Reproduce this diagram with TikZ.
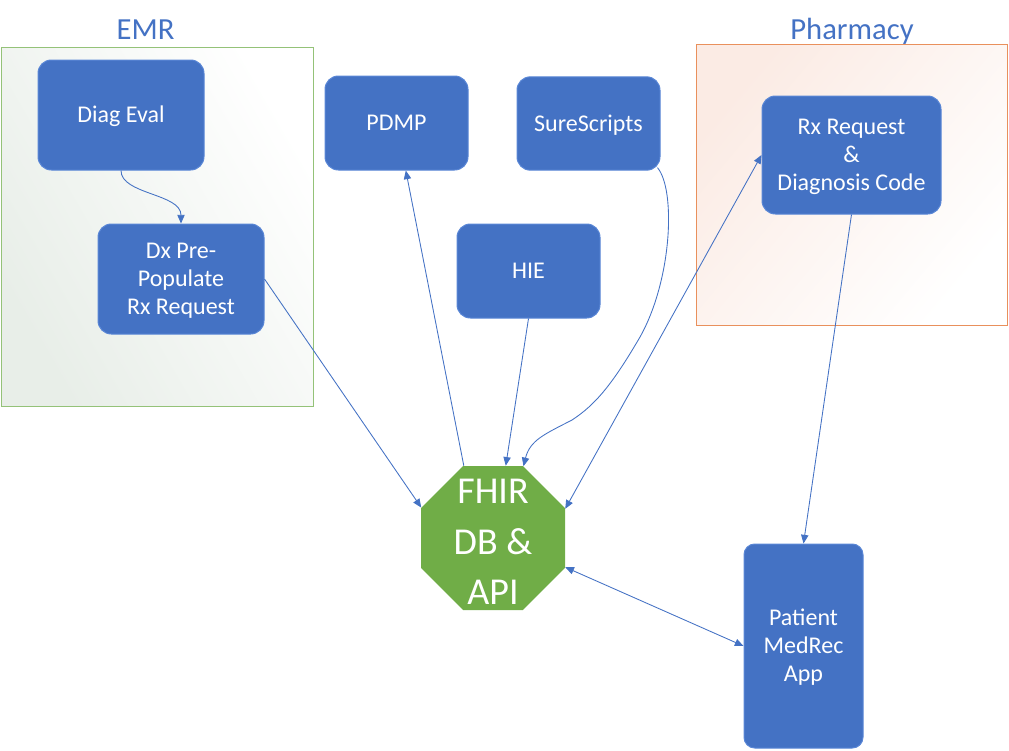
\documentclass[tikz,border=0pt]{standalone}
\usepackage{fontspec}
\setmainfont{Carlito}
\usetikzlibrary{arrows.meta,shapes.geometric,calc}
\definecolor{boxblue}{HTML}{4472C4}
\definecolor{boxedge}{HTML}{5A87D6}
\definecolor{fhirgreen}{HTML}{70AD47}
\definecolor{linkblue}{HTML}{4472C4}
\definecolor{titleblue}{HTML}{4472C4}
\definecolor{emredge}{HTML}{94C278}
\definecolor{emrshade}{HTML}{E8EEE8}
\definecolor{phedge}{HTML}{E9905C}
\definecolor{phshade}{HTML}{FBEBE4}
\newcommand{\boxlines}[1]{\raisebox{-1.75pt}[\height][\depth]{\begin{tabular}{@{}c@{}}#1\end{tabular}}}
\begin{document}
\begin{tikzpicture}[x=0.75pt,y=-0.75pt,
 bluebox/.style={draw=boxedge, line width=0.75pt, fill=boxblue, rounded corners=10pt,
   text=white, align=center, font=\fontsize{18}{21}\selectfont, inner sep=0pt},
 link/.style={draw=linkblue, line width=0.65pt, -{Triangle[length=6.5pt,width=5.5pt]}},
 dlink/.style={draw=linkblue, line width=0.65pt, {Triangle[length=6.5pt,width=5.5pt]}-{Triangle[length=6.5pt,width=5.5pt]}},
 titletext/.style={text=titleblue, font=\fontsize{23}{27}\selectfont, anchor=base, inner sep=0pt},
 container/.style={line width=0.75pt, inner sep=0pt}]
\useasboundingbox (0,0) rectangle (1009,750);

% containers
\node[container, draw=emredge, top color=white, bottom color=emrshade, shading angle=-60,
  minimum width=234pt, minimum height=269.25pt] (emr) at (157,226.5) {};
\node[container, draw=phedge, top color=phshade, bottom color=white, shading angle=50,
  minimum width=233.25pt, minimum height=210.75pt] (pharm) at (851.5,184.5) {};
\node[titletext] (emrt) at (145.5,39) {EMR};
\node[titletext] (pht) at (852,39) {Pharmacy};

% boxes
\node[bluebox, minimum width=124.5pt, minimum height=82.5pt] (diag) at (121,115) {\boxlines{Diag Eval}};
\node[bluebox, minimum width=124.5pt, minimum height=82.5pt] (dx) at (181,279) {\boxlines{Dx Pre-\\Populate\\Rx Request}};
\node[bluebox, minimum width=107.25pt, minimum height=70.5pt] (pdmp) at (396.5,123) {\boxlines{PDMP}};
\node[bluebox, minimum width=107.25pt, minimum height=70pt] (ss) at (588.5,123.5) {\boxlines{SureScripts}};
\node[bluebox, minimum width=107.25pt, minimum height=70.5pt] (hie) at (528.5,271) {\boxlines{HIE}};
\node[bluebox, minimum width=134.25pt, minimum height=88.5pt] (rx) at (851.5,155) {\boxlines{Rx Request\\\&\\Diagnosis Code}};
\node[bluebox, rounded corners=8pt, minimum width=89.25pt, minimum height=153pt] (pat) at (803.5,646) {\boxlines{Patient\\MedRec\\App}};

% octagon
\node[regular polygon, regular polygon sides=8, fill=fhirgreen, inner sep=0pt,
  minimum size=116.9pt] (oct) at (493,538) {};
\node[text=white, align=center, inner sep=0pt, font=\fontsize{28.5}{38}\selectfont] (fhirtxt) at (493,542) {FHIR\\DB \&\\API};

% connectors
\draw[link] (diag.south) .. controls +(0,24) and +(0,-30) .. (dx.north);
\draw[link] (dx.east) -- (oct.157.5);
\draw[link] (oct.112.5) -- (pdmp);
\draw[link] (hie.south) -- (oct.80.5);
\draw[link] ($(ss.south east)+(-3,-3)$) .. controls (676,190) and (672,280) .. (640,337)
   .. controls (612,385) and (595,405) .. (572,420)
   .. controls (545,434) and (530,440) .. (oct.67.5);
\draw[dlink] (oct.22.5) -- (rx.west);
\draw[link] (rx.south) -- (pat.north);
\draw[dlink] (oct.-22.5) -- (pat.west);
\end{tikzpicture}
\end{document}
